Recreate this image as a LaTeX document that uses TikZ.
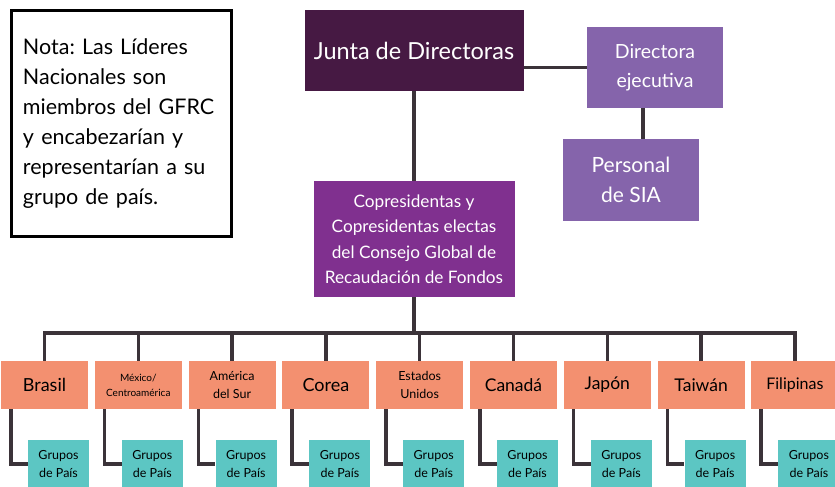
\documentclass[tikz,border=0pt]{standalone}
\usepackage{fontspec}
\setmainfont{Lato}
\definecolor{junta}{HTML}{461943}
\definecolor{lila}{HTML}{8564AB}
\definecolor{morado}{HTML}{80308F}
\definecolor{naranja}{HTML}{F39070}
\definecolor{turquesa}{HTML}{5CC6C3}
\definecolor{linea}{HTML}{3B3339}

\newcommand{\tam}[2]{\fontsize{#1}{#2}\selectfont}
\frenchspacing

\begin{document}
\begin{tikzpicture}[x=1pt,y=-1pt]
    \tikzstyle{every node}=[inner sep=0pt, align=center]
    \tikzstyle{pais}=[rectangle, fill=naranja, text=black, minimum width=87pt, minimum height=48pt]
    \tikzstyle{grupo}=[rectangle, fill=turquesa, text=black, minimum width=61pt, minimum height=48pt, font=\tam{12.5}{18}]
    \tikzstyle{mando}=[rectangle, text=white]
    \tikzstyle{conector}=[draw=linea, line width=3.5pt]
    \useasboundingbox (0,0) rectangle (835,487);

    % nota
    \node[draw=black, line width=3pt, minimum width=220pt, minimum height=225pt,
          text width=196pt, align=left, inner xsep=12pt, font=\tam{21.5}{30}] (nota) at (121,123.5)
          {Nota: Las Líderes\\ Nacionales son\\ miembros del GFRC\\ y encabezarían y\\ representarían a su\\ grupo de país.};

    % direccion
    \node[mando, fill=junta, minimum width=219pt, minimum height=81pt, font=\tam{23.5}{26}] (junta) at (414,50.5) {Junta de Directoras};
    \node[mando, fill=lila, minimum width=136pt, minimum height=81pt, font=\tam{19.5}{29}] (directora) at (655,67.5) {Directora\\ ejecutiva};
    \node[mando, fill=lila, minimum width=136pt, minimum height=82pt, font=\tam{21}{30}] (personal) at (631,180) {Personal\\ de SIA};
    \node[mando, fill=morado, minimum width=201pt, minimum height=116pt, font=\tam{17.2}{25.5}] (copres) at (414,239)
         {Copresidentas y\\ Copresidentas electas\\ del Consejo Global de\\ Recaudación de Fondos};

    \coordinate (enlace) at (643,0);
    \coordinate (bus) at (414,333);
    \draw[conector] (junta.east |- directora.west) -- (directora.west);
    \draw[conector] (directora.south -| enlace) -- (personal.north -| enlace);
    \draw[conector] (junta.south) -- (copres.north);
    \draw[conector] (copres.south) -- (bus);

    % paises
    \foreach \i/\nombre/\ft/\sk in {0/Brasil/18/20, 1/{México/\\Centroamérica}/10/15, 2/{América\\del Sur}/12.5/18,
        3/Corea/18/20, 4/{Estados\\Unidos}/12.5/18, 5/Canadá/17.5/20, 6/Japón/17.5/20, 7/Taiwán/17.5/20, 8/Filipinas/16/20}{
        \node[pais, font=\tam{\ft}{\sk}] (p\i) at (44.5+93.8*\i,385) {\nombre};
        \node[grupo] (g\i) at (58.5+93.8*\i,464) {Grupos\\ de País};
        \draw[conector] ([xshift=10pt]p\i.south west) |- (g\i.west);
    }
    \draw[conector] (p0.north) |- (bus) -| (p8.north);
    \foreach \i in {1,2,...,7}{
        \draw[conector] (p\i.north) -- (p\i.north |- bus);
    }
\end{tikzpicture}
\end{document}
